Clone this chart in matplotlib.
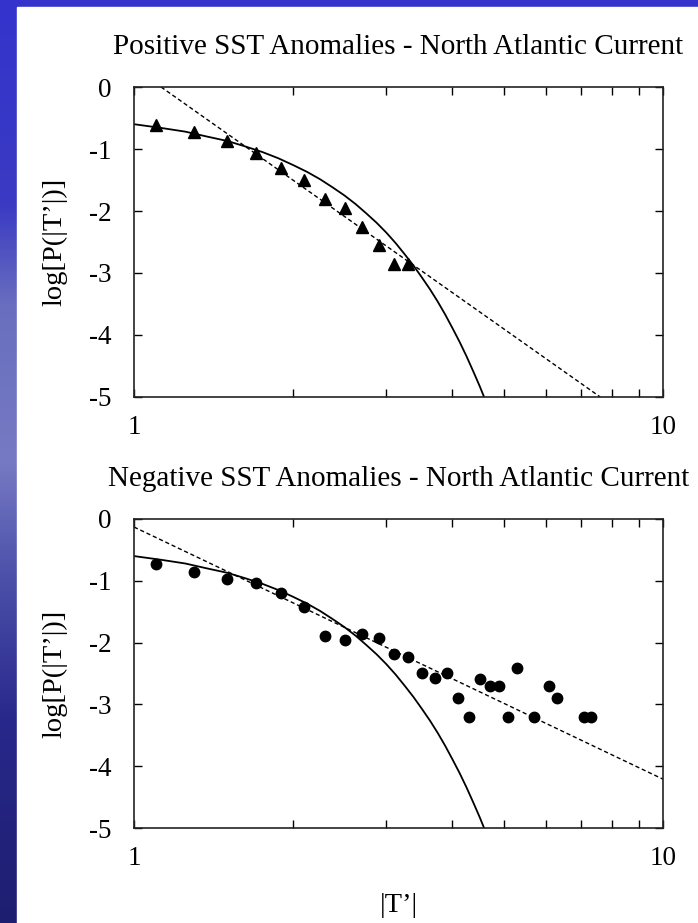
import matplotlib
matplotlib.use('Agg')
import matplotlib.pyplot as plt
import numpy as np
from matplotlib.patches import Rectangle
from matplotlib.ticker import LogLocator, NullFormatter, FixedLocator, FixedFormatter

plt.rcParams['font.family'] = ['Liberation Serif', 'DejaVu Serif']
plt.rcParams['axes.unicode_minus'] = False

# positive anomalies (triangles)
pos_x = [1.1, 1.3, 1.5, 1.7, 1.9, 2.1, 2.3, 2.5, 2.7, 2.9, 3.1, 3.3]
pos_y = [-0.62, -0.72, -0.87, -1.07, -1.30, -1.50, -1.80, -1.95, -2.25, -2.55, -2.86, -2.86]

# negative anomalies (circles)
neg_x = [1.1, 1.3, 1.5, 1.7, 1.9, 2.1, 2.3, 2.5, 2.7, 2.9, 3.1, 3.3, 3.5, 3.7,
         3.9, 4.1, 4.3, 4.5, 4.7, 4.9, 5.1, 5.3, 5.7, 6.1, 6.3, 7.1, 7.3]
neg_y = [-0.73, -0.86, -0.97, -1.04, -1.20, -1.43, -1.89, -1.95, -1.86, -1.93,
         -2.18, -2.23, -2.49, -2.58, -2.49, -2.89, -3.20, -2.59, -2.71, -2.71,
         -3.20, -2.41, -3.20, -2.71, -2.90, -3.20, -3.20]

# gaussian fit curve (solid), same in both panels
gauss_x = [1.0, 1.125, 1.25, 1.375, 1.5, 1.625, 1.75, 1.875, 2.0, 2.125, 2.25,
           2.375, 2.5, 2.625, 2.75, 2.875, 3.0, 3.125, 3.25, 3.375, 3.5, 3.625,
           3.75, 3.875, 4.0, 4.125, 4.25, 4.375, 4.5, 4.625]
gauss_y = [-0.60, -0.66, -0.72, -0.80, -0.87, -0.96, -1.05, -1.15, -1.26, -1.37,
           -1.49, -1.62, -1.75, -1.89, -2.04, -2.19, -2.35, -2.52, -2.70, -2.88,
           -3.07, -3.26, -3.46, -3.67, -3.89, -4.11, -4.34, -4.58, -4.82, -5.07]

# power law fit (dashed), end points
pos_pl_x = [1.125, 7.61]
pos_pl_y = [0.0, -5.0]
neg_pl_x = [1.0, 10.0]
neg_pl_y = [-0.13, -4.21]

titles = ['Positive SST Anomalies - North Atlantic Current',
          'Negative SST Anomalies - North Atlantic Current']
ylab = 'log[P(|T\u2019|)]'
xlab = '|T\u2019|'

W, H = 698, 923
fig = plt.figure(figsize=(W / 100, H / 100), dpi=100)

# blue slide background with white panel
bg = fig.add_axes([0, 0, 1, 1])
stops = [0.0, 0.22, 0.33, 0.5, 0.62, 0.78, 1.0]
cols = np.array([[52, 52, 205], [58, 58, 195], [105, 110, 190], [118, 122, 196],
                 [78, 82, 170], [40, 40, 140], [30, 30, 112]]) / 255.0
t = np.linspace(0, 1, 400)
grad = np.stack([np.interp(t, stops, cols[:, k]) for k in range(3)], axis=1)
bg.imshow(grad[:, None, :], aspect='auto', extent=[0, 1, 0, 1])
bg.add_patch(Rectangle((17 / W, 0), 1, 1 - 7 / H, color='white', zorder=2))
bg.set_xlim(0, 1)
bg.set_ylim(0, 1)
bg.axis('off')

left = 134 / W
width = (663 - 134) / W
panels = [(87, 397), (519, 828)]

axes = []
for top, bot in panels:
    ax = fig.add_axes([left, 1 - bot / H, width, (bot - top) / H])
    axes.append(ax)

def style(ax, title):
    ax.set_xscale('log')
    ax.set_xlim(1, 10)
    ax.set_ylim(-5, 0)
    ax.xaxis.set_major_locator(FixedLocator([1, 10]))
    ax.xaxis.set_major_formatter(FixedFormatter(['1', '10']))
    ax.xaxis.set_minor_locator(LogLocator(base=10, subs=np.arange(2, 10)))
    ax.xaxis.set_minor_formatter(NullFormatter())
    ax.set_yticks([0, -1, -2, -3, -4, -5])
    ax.set_yticklabels(['0', '-1', '-2', '-3', '-4', '-5'])
    ax.tick_params(which='both', direction='in', top=True, right=True,
                   length=6, width=1, color='black')
    ax.tick_params(axis='x', which='both', labelsize=19.5, pad=13)
    ax.tick_params(axis='y', which='both', labelsize=19.5, pad=16)
    for s in ax.spines.values():
        s.set_linewidth(1.2)
        s.set_color('#222222')
    ax.set_title(title, fontsize=21, pad=24)
    ax.set_ylabel(ylab, fontsize=20.5)
    ax.yaxis.set_label_coords(-0.125, 0.5)

ax1, ax2 = axes
style(ax1, titles[0])
ax1.plot(gauss_x, gauss_y, color='black', lw=1.3)
ax1.plot(pos_pl_x, pos_pl_y, color='black', lw=1.0, ls=(0, (3, 2)))
ax1.plot(pos_x, pos_y, ls='none', marker='^', ms=9, color='black')

style(ax2, titles[1])
ax2.plot(gauss_x, gauss_y, color='black', lw=1.3)
ax2.plot(neg_pl_x, neg_pl_y, color='black', lw=1.0, ls=(0, (3, 2)))
ax2.plot(neg_x, neg_y, ls='none', marker='o', ms=7.5, color='black')
ax2.set_xlabel(xlab, fontsize=20.5, labelpad=16)

fig.savefig('out.png', dpi=100)
